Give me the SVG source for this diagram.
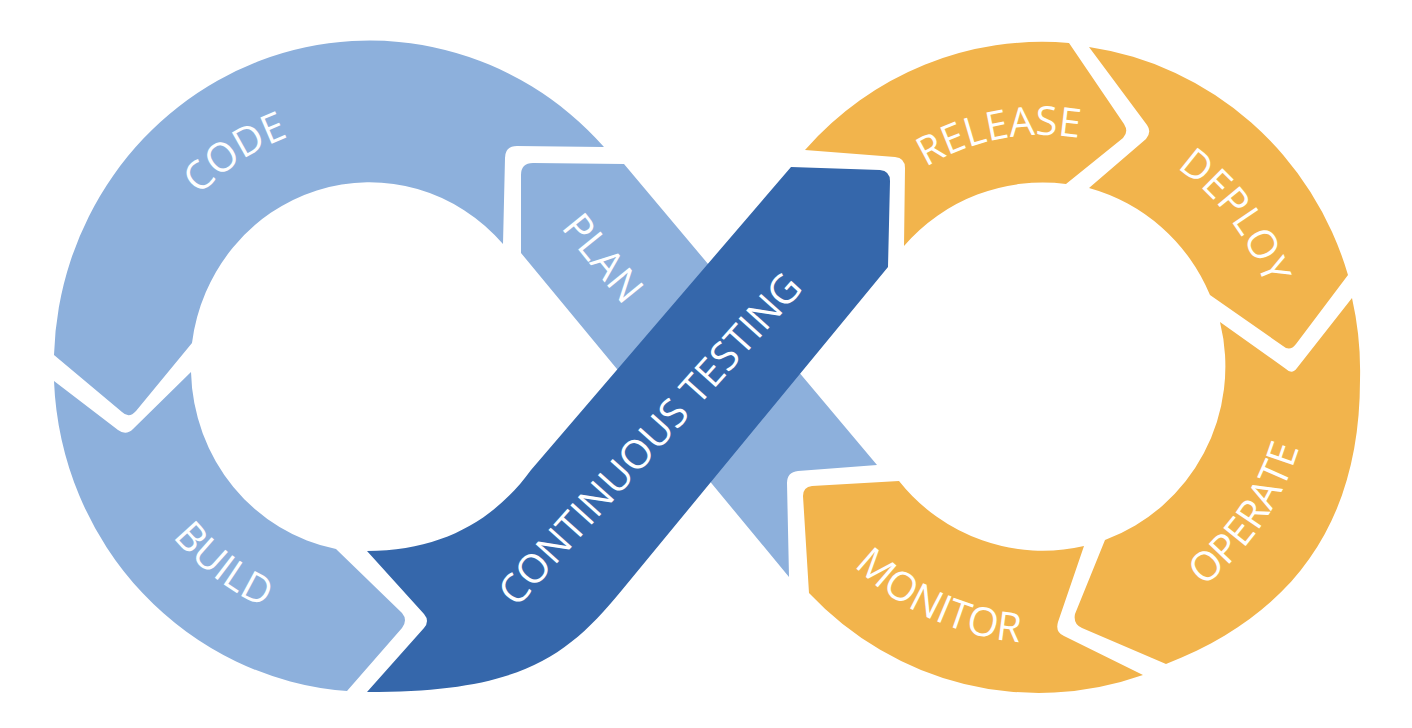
<svg xmlns="http://www.w3.org/2000/svg" width="1412" height="728" viewBox="0 0 1412 728">
<style>
.light{fill:#8DB0DC}
.dark{fill:#3567AB}
.orange{fill:#F2B44C}
.lbl{font-family:"Open Sans","Noto Sans","Liberation Sans",sans-serif;font-size:40px;fill:#FFFFFF;}
</style>
<defs>
<path id="tp-code" d="M 131.2 376.8 A 239 245 0 0 1 481.1 150.1"/>
<path id="tp-build" d="M 113.8 336.2 A 258 264 0 0 0 472.0 609.5"/>
<path id="tp-release" d="M 827.1 289.6 A 228 232 0 0 1 1215.4 216.3"/>
<path id="tp-deploy" d="M 1009.4 127.3 A 237 242 0 0 1 1261.6 458.0"/>
<path id="tp-operate" d="M 1016.2 639.7 A 269 274 0 0 0 1286.8 253.4"/>
<path id="tp-monitor" d="M 772.4 395.4 A 271 276 0 0 0 1200.9 590.6"/>
</defs>
<rect x="0" y="0" width="1412" height="728" fill="#FFFFFF"/>

<g id="plan">
<path class="light" d="M 521 253 L 521 175 Q 521 163 533 163 L 624 164 L 877 465 L 798 471 Q 787 472 787 483 L 789 577 Z"/>
<text class="lbl" text-anchor="middle" transform="translate(603,258) rotate(51)" dy="14">PLAN</text>
</g>

<g id="code">
<path class="light" d="M 54 355 A 316 324 0 0 1 604 147 L 517 146 Q 505 146 505 158 L 503 244 A 179 185 0 0 0 192 343 L 136 411 Q 129 419 122 412 Z"/>
<text class="lbl"><textPath href="#tp-code" startOffset="50%" text-anchor="middle">CODE</textPath></text>
</g>

<g id="build">
<path class="light" d="M 54 381 A 316 324 0 0 0 347 691 L 402 628 Q 408 620 402 613 L 336 549 A 179 185 0 0 1 191 372 L 133 429 Q 126 436 118 430 Z"/>
<text class="lbl"><textPath href="#tp-build" startOffset="50%" text-anchor="middle">BUILD</textPath></text>
</g>

<g id="continuous-testing">
<path class="dark" d="M 367 551 C 445 551 497 517 531 470 L 791 167 L 880 170 Q 890 171 890 181 L 888 267 L 622 590 C 565 660 517 692 367 692 L 424 628 Q 430 621 424 614 Z"/>
<text class="lbl" text-anchor="middle" transform="translate(650,439) rotate(-48)" dy="14">CONTINUOUS TESTING</text>
</g>

<g id="release">
<path class="orange" d="M 805 150 A 318 324 0 0 1 1069 43 L 1124 124 Q 1129 132 1123 138 L 1066 184 A 184 185 0 0 0 904 246 L 905 168 Q 905 158 895 157 Z"/>
<text class="lbl"><textPath href="#tp-release" startOffset="50%" text-anchor="middle">RELEASE</textPath></text>
</g>

<g id="deploy">
<path class="orange" d="M 1089 47 A 318 324 0 0 1 1348 275 L 1296 344 Q 1290 352 1283 346 L 1210 295 A 184 185 0 0 0 1089 188 L 1146 139 Q 1152 132 1147 125 Z"/>
<text class="lbl"><textPath href="#tp-deploy" startOffset="50%" text-anchor="middle">DEPLOY</textPath></text>
</g>

<g id="operate">
<path class="orange" d="M 1352 298 A 318 324 0 0 1 1360 380 C 1360 515 1300 612 1166 664 L 1082 628 Q 1073 624 1075 614 L 1105 540 A 184 185 0 0 0 1220 322 L 1286 369 Q 1292 375 1297 368 Z"/>
<text class="lbl"><textPath href="#tp-operate" startOffset="50%" text-anchor="middle">OPERATE</textPath></text>
</g>

<g id="monitor">
<path class="orange" d="M 1143 675 A 318 324 0 0 1 809 593 L 803 496 Q 803 487 812 486 L 899 481 A 184 185 0 0 0 1084 546 L 1058 622 Q 1055 632 1064 636 Z"/>
<text class="lbl"><textPath href="#tp-monitor" startOffset="50%" text-anchor="middle">MONITOR</textPath></text>
</g>
</svg>
